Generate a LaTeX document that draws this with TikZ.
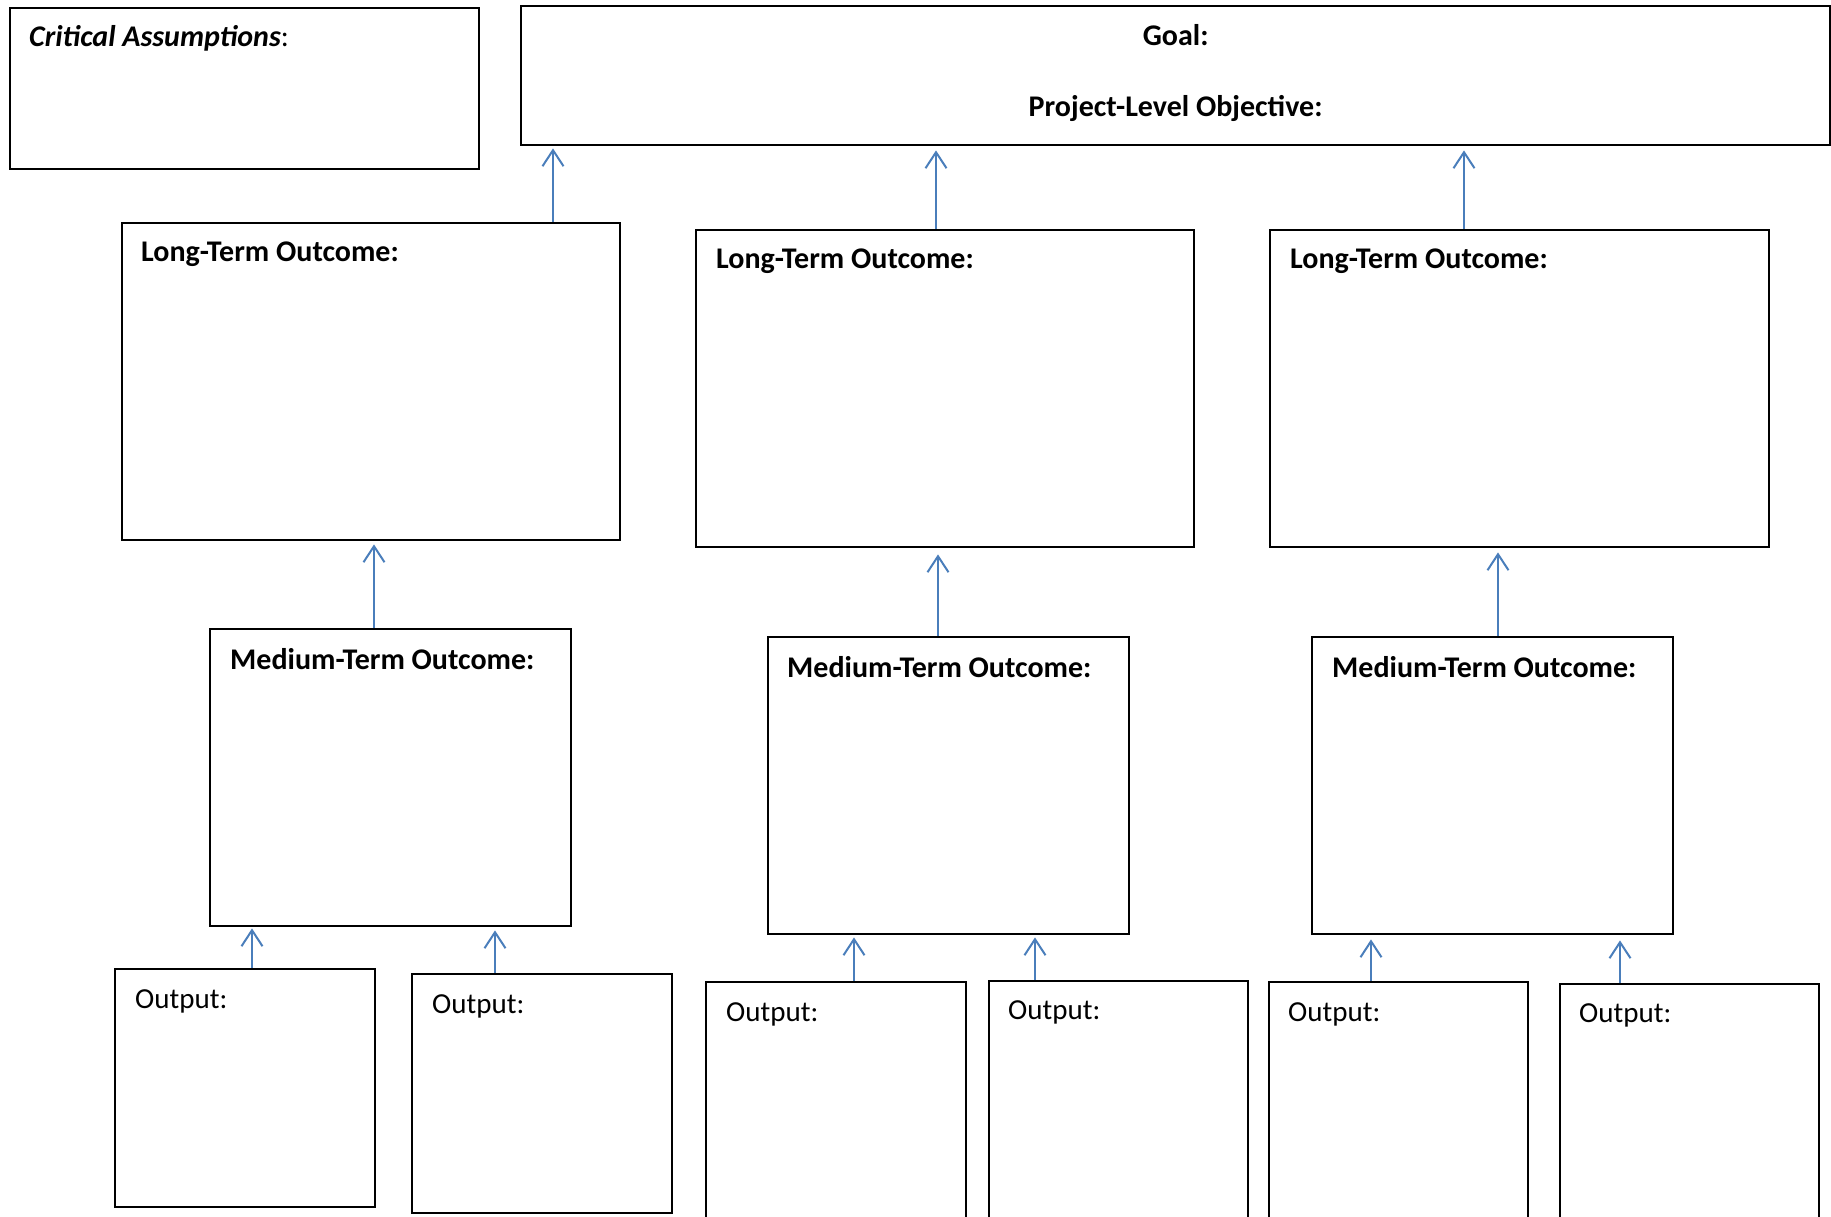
\documentclass[tikz,border=0pt]{standalone}
\usepackage{fontspec}
\setmainfont{Carlito}
\usetikzlibrary{arrows.meta}
\definecolor{arrblue}{RGB}{74,126,187}
\begin{document}
\begin{tikzpicture}[x=1pt,y=-1pt,
  box/.style={draw=black, line width=2.4pt, rectangle, inner sep=0pt, anchor=north west},
  lbl/.style={anchor=west, inner sep=0pt, font=\fontsize{29}{33}\selectfont},
  blbl/.style={anchor=west, inner sep=0pt, font=\fontsize{30}{34}\selectfont\bfseries},
  arr/.style={draw=arrblue, line width=2pt, -{Straight Barb[length=16pt,width=21pt,line width=2pt]}}]
\useasboundingbox (0,0) rectangle (1831,1217);
\clip (0,0) rectangle (1831,1217);

% boxes
\node[box, minimum width=469pt, minimum height=161pt] (ca) at (9,7) {};
\node[box, minimum width=1309pt, minimum height=139pt] (goal) at (520,5) {};
\node[box, minimum width=498pt, minimum height=317pt] (lt1) at (121,222) {};
\node[box, minimum width=498pt, minimum height=317pt] (lt2) at (695,229) {};
\node[box, minimum width=499pt, minimum height=317pt] (lt3) at (1269,229) {};
\node[box, minimum width=361pt, minimum height=297pt] (mt1) at (209,628) {};
\node[box, minimum width=361pt, minimum height=297pt] (mt2) at (767,636) {};
\node[box, minimum width=361pt, minimum height=297pt] (mt3) at (1311,636) {};
\node[box, minimum width=260pt, minimum height=238pt] (o1) at (114,968) {};
\node[box, minimum width=260pt, minimum height=239pt] (o2) at (411,973) {};
\node[box, minimum width=260pt, minimum height=260pt] (o3) at (705,981) {};
\node[box, minimum width=259pt, minimum height=260pt] (o4) at (988,980) {};
\node[box, minimum width=259pt, minimum height=260pt] (o5) at (1268,981) {};
\node[box, minimum width=259pt, minimum height=260pt] (o6) at (1559,983) {};

% labels
\node[blbl] (tca) at ([shift={(20pt,-31pt)}]ca.north west) {\textit{Critical Assumptions}\mdseries:};
\node[blbl, anchor=center] (tgoal) at ([yshift=-30pt]goal.north) {Goal:};
\node[blbl, anchor=center] (tobj) at ([yshift=-103pt]goal.north) {Project-Level Objective:};
\node[blbl] (tlt1) at ([shift={(20pt,-32pt)}]lt1.north west) {Long-Term Outcome:};
\node[blbl] (tlt2) at ([shift={(21pt,-32pt)}]lt2.north west) {Long-Term Outcome:};
\node[blbl] (tlt3) at ([shift={(21pt,-32pt)}]lt3.north west) {Long-Term Outcome:};
\node[blbl] (tmt1) at ([shift={(21pt,-31pt)}]mt1.north west) {Medium-Term Outcome:};
\node[blbl] (tmt2) at ([shift={(20pt,-31pt)}]mt2.north west) {Medium-Term Outcome:};
\node[blbl] (tmt3) at ([shift={(21pt,-31pt)}]mt3.north west) {Medium-Term Outcome:};
\node[lbl] (to1) at ([shift={(21pt,-33pt)}]o1.north west) {Output:};
\node[lbl] (to2) at ([shift={(21pt,-33pt)}]o2.north west) {Output:};
\node[lbl] (to3) at ([shift={(21pt,-33pt)}]o3.north west) {Output:};
\node[lbl] (to4) at ([shift={(20pt,-32pt)}]o4.north west) {Output:};
\node[lbl] (to5) at ([shift={(20pt,-33pt)}]o5.north west) {Output:};
\node[lbl] (to6) at ([shift={(20pt,-32pt)}]o6.north west) {Output:};

% connectors
\draw[arr, shorten >=2pt] (553,0 |- lt1.north) -- (553,0 |- goal.south);
\draw[arr, shorten >=4pt] (936,0 |- lt2.north) -- (936,0 |- goal.south);
\draw[arr, shorten >=4pt] (1464,0 |- lt3.north) -- (1464,0 |- goal.south);
\draw[arr, shorten >=3pt] (374,0 |- mt1.north) -- (374,0 |- lt1.south);
\draw[arr, shorten >=6pt] (938,0 |- mt2.north) -- (938,0 |- lt2.south);
\draw[arr, shorten >=4pt] (1498,0 |- mt3.north) -- (1498,0 |- lt3.south);
\draw[arr, shorten >=1pt] (252,0 |- o1.north) -- (252,0 |- mt1.south);
\draw[arr, shorten >=3pt] (495,0 |- o2.north) -- (495,0 |- mt1.south);
\draw[arr, shorten >=2pt] (854,0 |- o3.north) -- (854,0 |- mt2.south);
\draw[arr, shorten >=2pt] (1035,0 |- o4.north) -- (1035,0 |- mt2.south);
\draw[arr, shorten >=4pt] (1371,0 |- o5.north) -- (1371,0 |- mt3.south);
\draw[arr, shorten >=5pt] (1620,0 |- o6.north) -- (1620,0 |- mt3.south);
\end{tikzpicture}
\end{document}
